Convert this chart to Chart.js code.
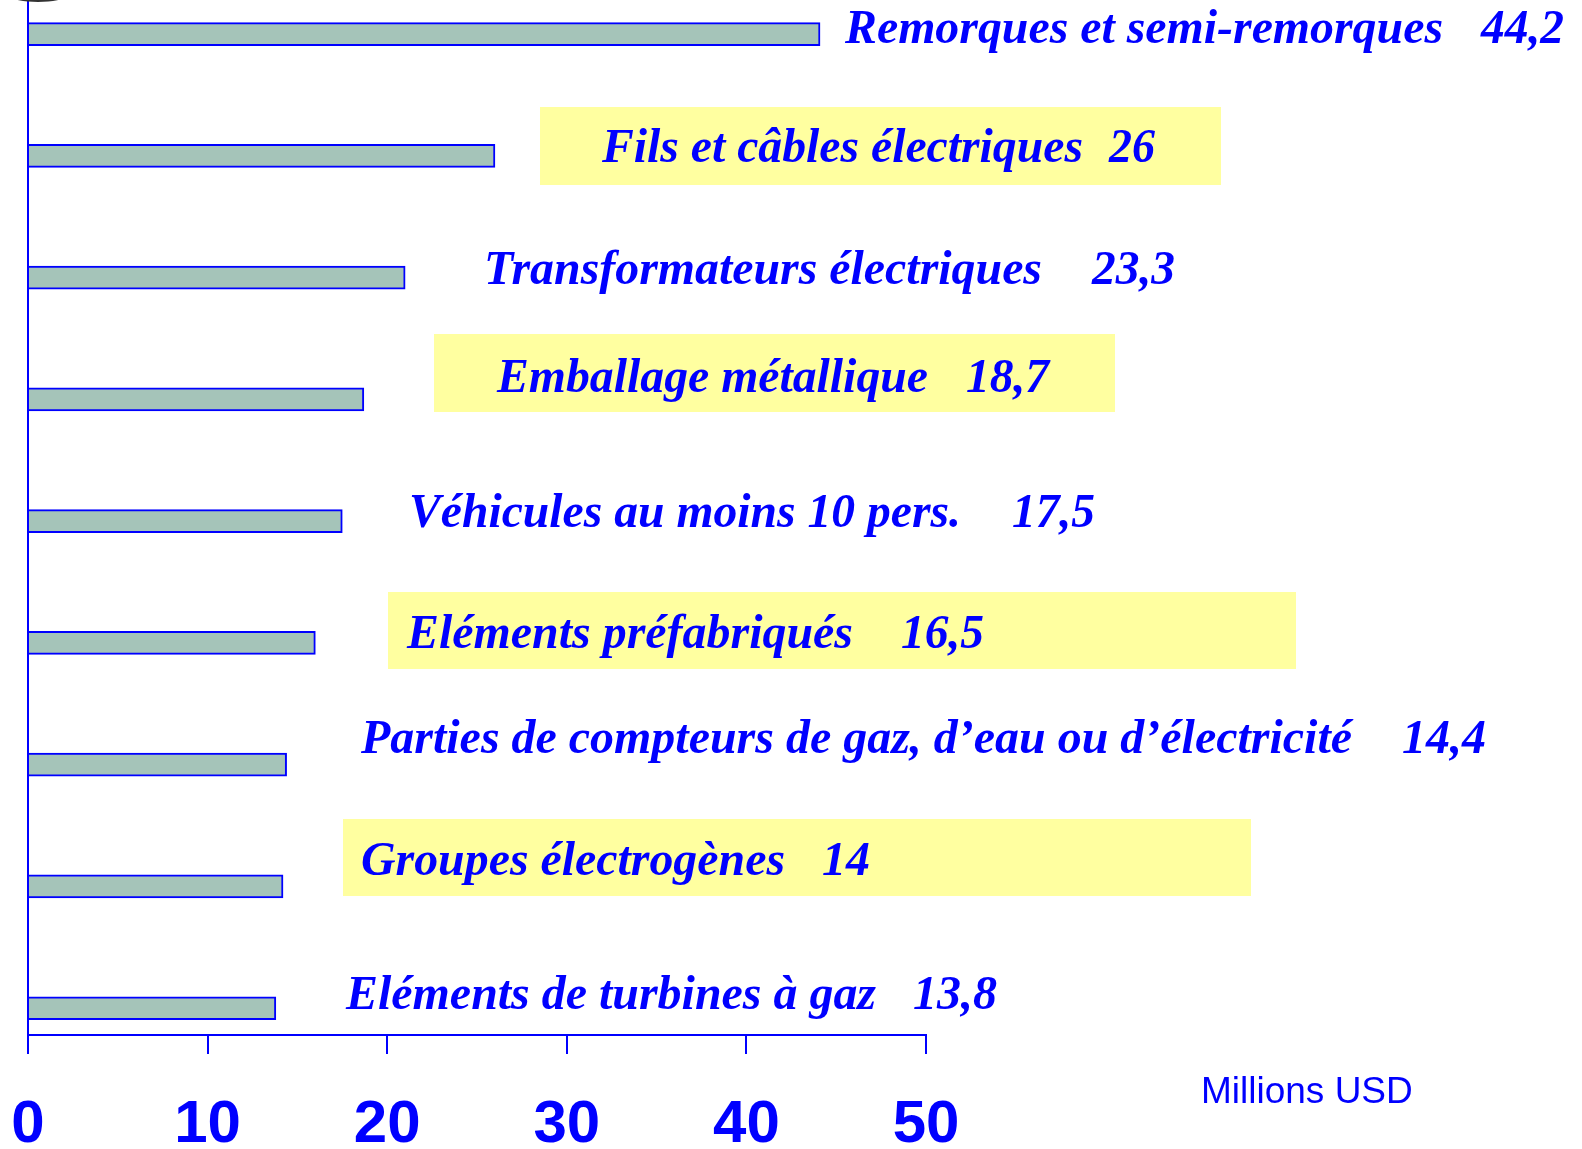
<!DOCTYPE html>
<html>
<head>
<meta charset="utf-8">
<script src="https://cdn.jsdelivr.net/npm/chart.js@4.4.1/dist/chart.umd.min.js"></script>
<style>
  html, body { margin: 0; padding: 0; background: #fff; overflow: hidden; }
  #mycanvas { display: block; }
</style>
</head>
<body>
<canvas id="mycanvas" width="1582" height="1149"></canvas>
<script>
// data (bar lengths as drawn, labels as printed)
var categories = [
  "Remorques et semi-remorques",
  "Fils et câbles électriques",
  "Transformateurs électriques",
  "Emballage métallique",
  "Véhicules au moins 10 pers.",
  "Eléments préfabriqués",
  "Parties de compteurs de gaz, d\u2019eau ou d\u2019électricité",
  "Groupes électrogènes",
  "Eléments de turbines à gaz"
];
var values = [44.1, 26, 21, 18.7, 17.5, 16, 14.4, 14.2, 13.8];
var valueLabels = ["44,2", "26", "23,3", "18,7", "17,5", "16,5", "14,4", "14", "13,8"];
var xTicks = [0, 10, 20, 30, 40, 50];
var unitLabel = "Millions USD";

// label layout (pixels)
var nameStart = [845, 602, 484, 497, 409, 407, 361, 361, 346];
var nameEnd   = [1443, 1083, 1042, 928, 961, 853, 1352, 785, 876];
var valStart  = [1481, 1109, 1092, 966, 1012, 901, 1402, 822, 913];
var valEnd    = [1564, 1155, 1175, 1049, 1095, 984, 1486, 870, 997];
var baseline  = [43, 162, 284, 392, 527, 648, 753, 875, 1009];
var boxes = [
  [540, 1221, 107, 185],
  [434, 1115, 334, 412],
  [388, 1296, 592, 669],
  [343, 1251, 819, 896]
];

var BLUE = '#0000ff';

function fitText(ctx, txt, x0, x1, y) {
  var w = ctx.measureText(txt).width;
  ctx.save();
  ctx.translate(x0, y);
  ctx.scale((x1 - x0) / w, 1);
  ctx.fillText(txt, 0, 0);
  ctx.restore();
}

var labelPlugin = {
  id: 'labels',
  beforeDatasetsDraw: function(chart) {
    var ctx = chart.ctx;
    ctx.save();
    ctx.fillStyle = '#ffffa0';
    boxes.forEach(function(b) {
      ctx.fillRect(b[0], b[2], b[1] - b[0], b[3] - b[2]);
    });
    // little dark blob at top-left
    ctx.fillStyle = '#333';
    ctx.beginPath();
    ctx.ellipse(38, -4, 27, 6, 0, 0, Math.PI * 2);
    ctx.fill();
    ctx.restore();
  },
  afterDraw: function(chart) {
    var ctx = chart.ctx;
    ctx.save();
    ctx.fillStyle = BLUE;
    ctx.textBaseline = 'alphabetic';
    ctx.textAlign = 'left';
    ctx.font = 'italic bold 48px "Liberation Serif", "Times New Roman", serif';
    for (var i = 0; i < categories.length; i++) {
      fitText(ctx, categories[i], nameStart[i], nameEnd[i], baseline[i]);
      fitText(ctx, valueLabels[i], valStart[i], valEnd[i], baseline[i]);
    }
    ctx.font = '37px "Liberation Sans", Arial, sans-serif';
    ctx.fillText(unitLabel, 1201, 1103);
    ctx.restore();
  }
};

var chartdata = {
  datasets: [{
    label: 'Millions USD',
    backgroundColor: '#a5c4b9',
    borderColor: BLUE,
    borderWidth: 2,
    barThickness: 23,
    data: values.map(function(v, i) { return { x: v, y: i }; })
  }]
};

var ctx = document.getElementById('mycanvas');
var barGraph = new Chart(ctx, {
  type: 'bar',
  data: chartdata,
  plugins: [labelPlugin],
  options: {
    indexAxis: 'y',
    responsive: false,
    animation: false,
    devicePixelRatio: 1,
    layout: { padding: { left: 28, right: 656, top: 0, bottom: 0 } },
    plugins: { legend: { display: false }, tooltip: { enabled: false } },
    scales: {
      x: {
        type: 'linear',
        min: xTicks[0],
        max: xTicks[xTicks.length - 1],
        afterBuildTicks: function(scale) {
          scale.ticks = xTicks.map(function(v) { return { value: v }; });
        },
        afterFit: function(scale) {
          scale.height = 114;
          scale.paddingLeft = 0;
          scale.paddingRight = 0;
        },
        grid: { drawOnChartArea: false, drawTicks: true, tickLength: 19, color: BLUE, lineWidth: 2 },
        border: { color: BLUE, width: 2 },
        ticks: {
          color: BLUE,
          padding: 44,
          maxRotation: 0,
          minRotation: 0,
          font: { family: '"Liberation Sans", Arial, sans-serif', size: 60, weight: 'bold', lineHeight: 0.9 }
        }
      },
      y: {
        type: 'linear',
        reverse: true,
        offset: false,
        min: -0.28,
        max: 8.22,
        afterFit: function(scale) {
          scale.width = 0;
          scale.paddingTop = 0;
          scale.paddingBottom = 0;
        },
        grid: { display: false, drawTicks: false },
        border: { color: BLUE, width: 2 },
        ticks: { display: false }
      }
    }
  }
});
</script>
</body>
</html>
